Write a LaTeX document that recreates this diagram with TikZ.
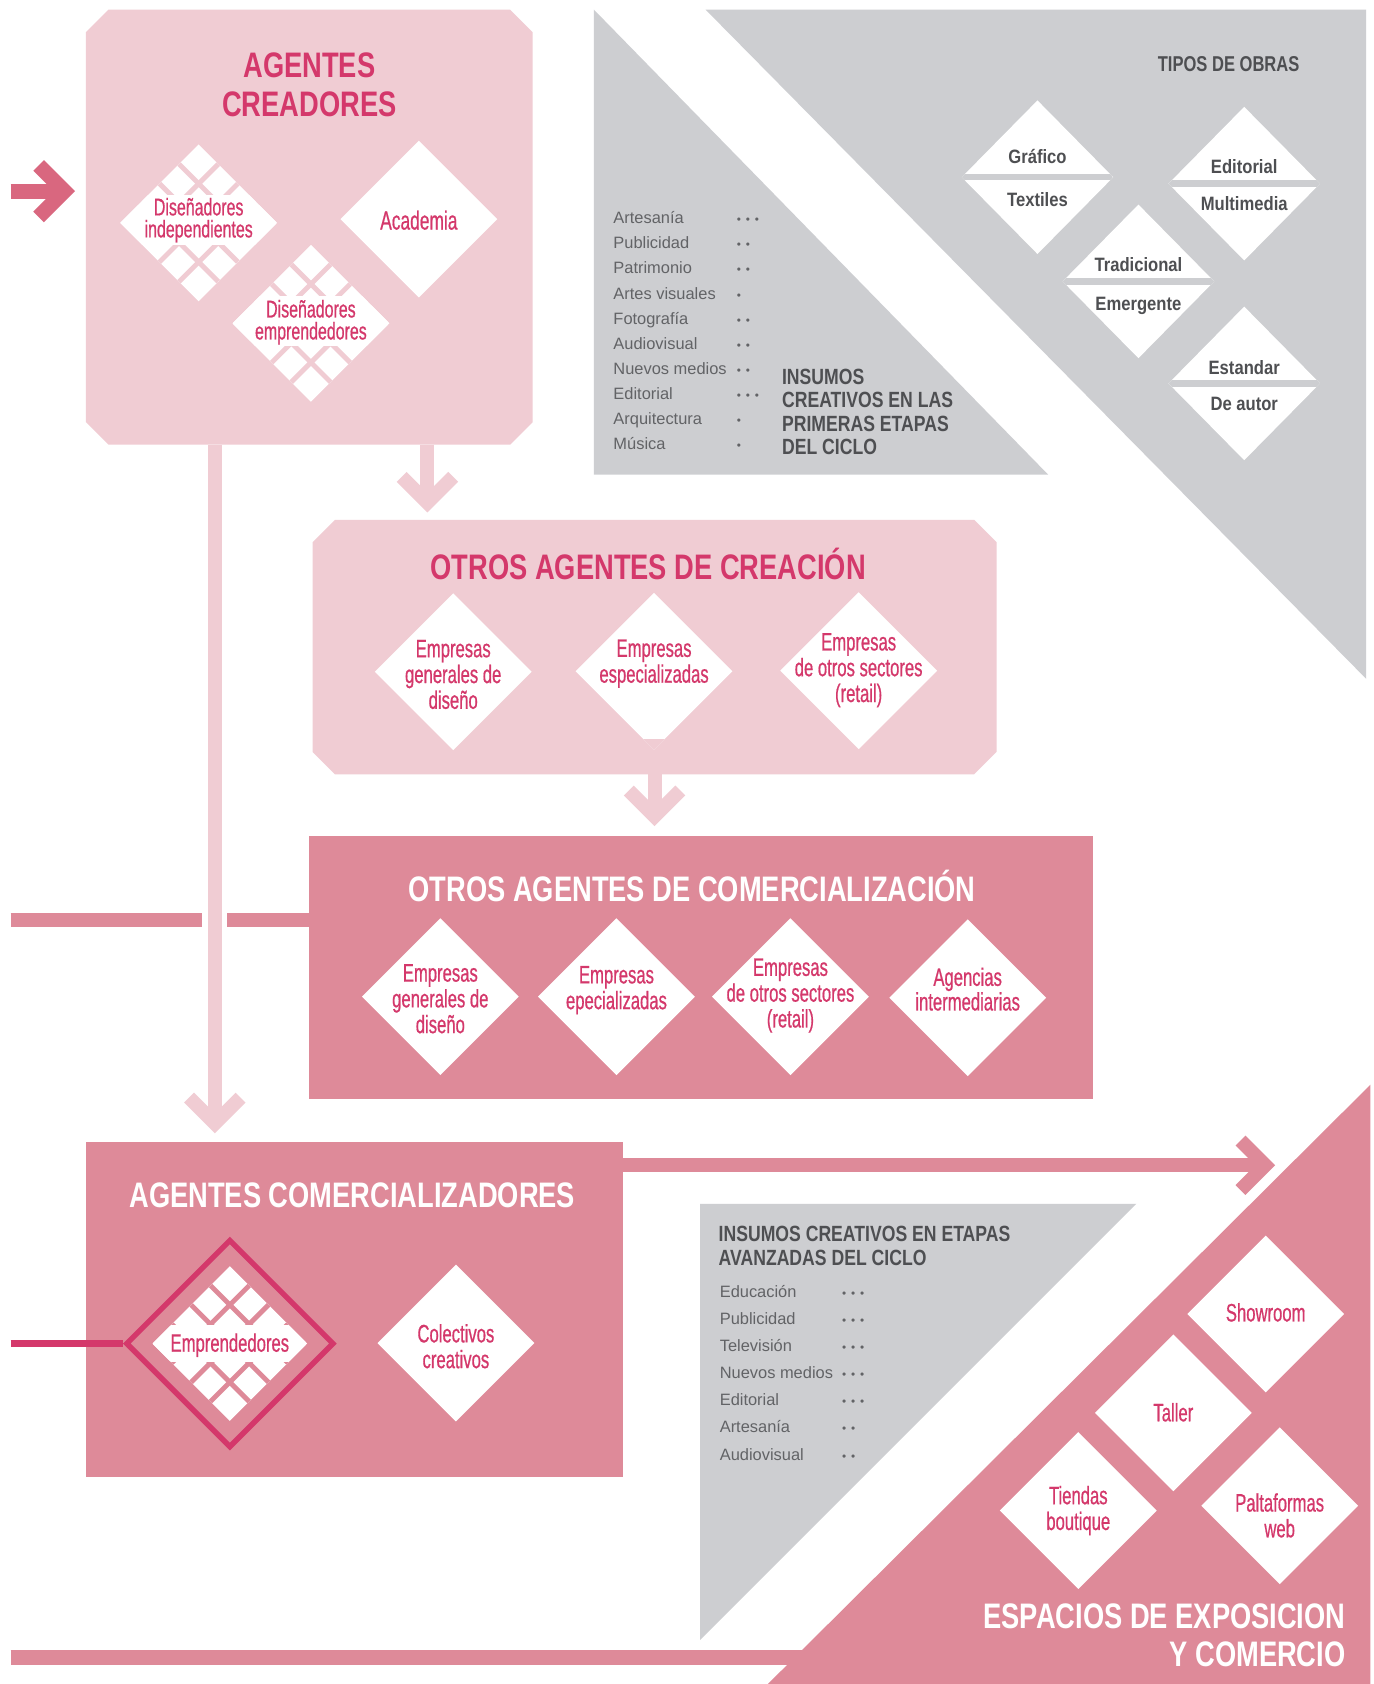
\documentclass[tikz,border=0pt]{standalone}
\usepackage{fontspec}
\setmainfont{Liberation Sans}
\newfontfamily\ttlfont[FakeStretch=0.77]{Liberation Sans}
\newfontfamily\condfont[FakeStretch=0.66,FakeBold=0.6]{Liberation Sans}
\newfontfamily\gttlfont[FakeStretch=0.80]{Liberation Sans}
\newfontfamily\gdfont[FakeStretch=0.86]{Liberation Sans}
\usetikzlibrary{shapes.geometric,calc}

\definecolor{lpink}{HTML}{F0CCD3}
\definecolor{mpink}{HTML}{DE8A99}
\definecolor{dpink}{HTML}{D4386B}
\definecolor{apink}{HTML}{D9677F}
\definecolor{greyb}{HTML}{CDCED1}
\definecolor{gdark}{HTML}{4E4F52}
\definecolor{glist}{HTML}{626366}

% fill a box node as an octagon with chamfered corners
\newcommand\chamferbox[3]{%
  \fill[#2] ([xshift=#3pt]#1.north west) -- ([xshift=-#3pt]#1.north east)
    -- ([yshift=-#3pt]#1.north east) -- ([yshift=#3pt]#1.south east)
    -- ([xshift=-#3pt]#1.south east) -- ([xshift=#3pt]#1.south west)
    -- ([yshift=#3pt]#1.south west) -- ([yshift=-#3pt]#1.north west) -- cycle;}
% chevron heads of the thick arrows
\newcommand\chevright[2]{\draw[chev,#2] ($(#1)+(-23,-23)$) -- (#1) -- ($(#1)+(-23,23)$);}
\newcommand\chevdown[2]{\draw[chev,#2] ($(#1)+(-24,-24)$) -- (#1) -- ($(#1)+(24,-24)$);}
% rating marks
\newcommand\dotone{{\fontsize{11}{11}\selectfont •}}
\newcommand\dottwo{\dotone\hspace{4.5pt}\dotone}
\newcommand\dotthree{\dottwo\hspace{4.5pt}\dotone}

\begin{document}
\begin{tikzpicture}[x=1pt,y=-1pt,
  boxn/.style={rectangle, inner sep=0pt, outer sep=0pt},
  dia/.style={diamond, inner sep=0pt, outer sep=0pt, minimum width=146pt, minimum height=146pt, fill=white},
  patdia/.style n args={3}{dia, path picture={
      \foreach \t in {0.25,0.5,0.75}{
        \draw[#1, line width=4.5pt]
          ($(path picture bounding box.west)!\t!(path picture bounding box.south)$) --
          ($(path picture bounding box.north)!\t!(path picture bounding box.east)$);
        \draw[#1, line width=4.5pt]
          ($(path picture bounding box.west)!\t!(path picture bounding box.north)$) --
          ($(path picture bounding box.south)!\t!(path picture bounding box.east)$);
      }
      \fill[white] ([yshift=#2pt]path picture bounding box.west) rectangle ([yshift=-#3pt]path picture bounding box.east);
    }},
  truncdia/.style={dia, path picture={
      \fill[lpink] (path picture bounding box.south west) rectangle ([yshift=10pt]path picture bounding box.south east);}},
  splitdia/.style={dia, minimum width=141pt, minimum height=143pt, path picture={
      \fill[greyb] ([yshift=3pt]path picture bounding box.west) rectangle ([yshift=-3pt]path picture bounding box.east);}},
  eout/.style={diamond, inner sep=0pt, minimum width=194pt, minimum height=194pt, draw=dpink, line width=5pt},
  ptext/.style={font=\condfont\fontsize{23.5}{24}\selectfont, text=dpink, align=center, inner sep=0pt},
  ptextsm/.style={font=\condfont\fontsize{22.5}{20.5}\selectfont, text=dpink, align=center, inner sep=0pt},
  gtext/.style={font=\gdfont\bfseries\fontsize{18}{20}\selectfont, text=gdark, inner sep=0pt},
  ttl/.style={font=\ttlfont\bfseries\fontsize{33}{36}\selectfont, align=center, inner sep=0pt},
  gttl/.style={font=\gttlfont\bfseries\fontsize{20.5}{21.7}\selectfont, text=gdark, align=left, inner sep=0pt},
  lst/.style={inner sep=0pt, anchor=north west, text=glist},
  shaftline/.style={line width=13pt, line cap=butt},
  chev/.style={line width=13pt, line join=miter, line cap=butt}
]
\useasboundingbox (0,0) rectangle (1279,1568);
\fill[white] (0,0) rectangle (1279,1568);

% ---------- grey panels ----------
\fill[greyb] (553,9) -- (976,442) -- (553,442) -- cycle;
\fill[greyb] (657,9) -- (1272,9) -- (1272,632) -- cycle;
\fill[greyb] (652,1121) -- (1058,1121) -- (652,1527) -- cycle;

% ---------- pink exhibition triangle ----------
\coordinate (tA) at (715,1568);
\coordinate (tB) at (1276,1568);
\coordinate (tC) at (1276,1010);
\fill[mpink] (tA) -- (tB) -- (tC) -- cycle;

% ---------- boxes ----------
\node[boxn, minimum width=416pt, minimum height=405pt] (b1) at (288,211.5) {};
\chamferbox{b1}{lpink}{21}
\node[boxn, minimum width=637pt, minimum height=237pt] (b2) at (609.5,602.5) {};
\chamferbox{b2}{lpink}{21}
\node[boxn, fill=mpink, minimum width=730pt, minimum height=245pt] (b3) at (653,900.5) {};
\node[boxn, fill=mpink, minimum width=500pt, minimum height=312pt] (b4) at (330,1219) {};

% ---------- connectors ----------
% entry arrow
\coordinate (inL) at (10,178);
\coordinate (inV) at ($(inL -| b1.west)+(-20,0)$);
\draw[apink, line width=14pt] (inL) -- (inV);
\draw[apink, line width=14pt, line join=miter] ($(inV)+(-24,-24)$) -- (inV) -- ($(inV)+(-24,24)$);

% line into the commercialisation box
\coordinate (hL) at (10,857);
\draw[mpink, shaftline] (hL) -- (hL -| b3.west);

% long vertical arrow from creators to sellers
\coordinate (vTop) at ([xshift=-88pt]b1.south);
\coordinate (vEnd) at ($(vTop |- b4.north)+(0,-17)$);
\draw[white, line width=23pt] (vTop) -- (vEnd);
\draw[lpink, shaftline] (vTop) -- (vEnd);
\chevdown{vEnd}{lpink}

% box 1 -> box 2
\coordinate (d1s) at ([xshift=110pt]b1.south);
\coordinate (d1v) at ($(d1s |- b2.north)+(0,-16)$);
\draw[lpink, shaftline] (d1s) -- (d1v);
\chevdown{d1v}{lpink}

% box 2 -> box 3
\coordinate (d2s) at (b2.south);
\coordinate (d2v) at ($(b2.south |- b3.north)+(0,-18)$);
\draw[lpink, shaftline] (d2s) -- (d2v);
\chevdown{d2v}{lpink}

% box 4 -> exhibition spaces
\coordinate (rS) at ([yshift=-22pt]b4.north east);
\coordinate (rV) at (1178,1085);
\draw[mpink, shaftline] (rS) -- (rV);
\chevright{rV}{mpink}

% bottom line into the triangle
\coordinate (bL) at (10,1543);
\coordinate (bR) at (750,1543);
\draw[mpink, line width=14pt] (bL) -- (bR);

% ---------- box 1: AGENTES CREADORES ----------
\node[ttl, text=dpink] (b1t) at (288,79) {AGENTES\\CREADORES};
\node[patdia={lpink}{25.5}{20.5}] (dind) at (185,207.5) {};
\node[ptextsm] (dindt) at (185,205) {Diseñadores\\independientes};
\node[dia] (dacad) at (390,204) {};
\node[ptext, font=\condfont\fontsize{24.5}{25}\selectfont] (dacadt) at (390,205) {Academia};
\node[patdia={lpink}{25}{21}] (demp) at (289.5,301) {};
\node[ptextsm] (dempt) at (289.5,300) {Diseñadores\\emprendedores};

% ---------- box 2: OTROS AGENTES DE CREACIÓN ----------
\node[ttl, text=dpink] (b2t) at (603.5,525) {OTROS AGENTES DE CREACIÓN};
\node[dia] (g1) at (422,625.5) {};
\node[ptext] (g1t) at (422,628) {Empresas\\generales de\\diseño};
\node[truncdia] (g2) at (609,625) {};
\node[ptext] (g2t) at (609,618) {Empresas\\especializadas};
\node[dia] (g3) at (799.5,624.5) {};
\node[ptext] (g3t) at (799.5,624) {Empresas\\de otros sectores\\(retail)};

% ---------- box 3: OTROS AGENTES DE COMERCIALIZACIÓN ----------
\node[ttl, text=white] (b3t) at (644.5,825) {OTROS AGENTES DE COMERCIALIZACIÓN};
\node[dia] (c1) at (410,928) {};
\node[ptext] (c1t) at (410,930) {Empresas\\generales de\\diseño};
\node[dia] (c2) at (574,928) {};
\node[ptext] (c2t) at (574,922) {Empresas\\epecializadas};
\node[dia] (c3) at (736,928) {};
\node[ptext] (c3t) at (736,927) {Empresas\\de otros sectores\\(retail)};
\node[dia] (c4) at (901,929) {};
\node[ptextsm, font=\condfont\fontsize{23.5}{20}\selectfont] (c4t) at (901,921) {Agencias\\intermediarias};

% ---------- box 4: AGENTES COMERCIALIZADORES ----------
\node[ttl, text=white] (b4t) at (328,1113) {AGENTES COMERCIALIZADORES};
\node[eout] (eo) at (214,1251) {};
\node[patdia={mpink}{17}{17}, minimum width=144pt, minimum height=144pt] (ep) at (214,1251) {};
\node[ptext] (ept) at (214,1252.5) {Emprendedores};
\node[dia] (col) at (424.5,1250.5) {};
\node[ptext] (colt) at (424.5,1253.5) {Colectivos\\creativos};
\coordinate (eL) at (10,1251);
\draw[dpink, line width=6pt] (eL) -- (eo.west);

% ---------- exhibition spaces ----------
\node[dia] (sh) at (1178.5,1223.5) {};
\node[ptext] (sht) at (1178.5,1222) {Showroom};
\node[dia] (ta) at (1092.5,1315.5) {};
\node[ptext] (tat) at (1092.5,1315) {Taller};
\node[dia] (ti) at (1004,1406.5) {};
\node[ptext] (tit) at (1004,1406.5) {Tiendas\\boutique};
\node[dia] (pa) at (1191.5,1402) {};
\node[ptext] (pat) at (1191.5,1411) {Paltaformas\\web};
\node[ttl, text=white, align=right, anchor=east] (ext) at (1253,1522.5) {ESPACIOS DE EXPOSICION\\Y COMERCIO};

% ---------- work types ----------
\node[gttl, font=\ttlfont\bfseries\fontsize{20}{21}\selectfont] (tpo) at (1144,60) {TIPOS DE OBRAS};
\node[splitdia] (s1) at (966,165) {};
\node[gtext] (s1a) at (966,146) {Gráfico};
\node[gtext] (s1b) at (966,186) {Textiles};
\node[splitdia] (s2) at (1158.5,171) {};
\node[gtext] (s2a) at (1158.5,155) {Editorial};
\node[gtext] (s2b) at (1158.5,190) {Multimedia};
\node[splitdia] (s3) at (1060,262) {};
\node[gtext] (s3a) at (1060,246) {Tradicional};
\node[gtext] (s3b) at (1060,284.5) {Emergente};
\node[splitdia] (s4) at (1158.5,357) {};
\node[gtext] (s4a) at (1158.5,342) {Estandar};
\node[gtext] (s4b) at (1158.5,376) {De autor};

% ---------- creative inputs, early stages ----------
\node[lst, font=\fontsize{15.3}{23.3}\selectfont] (list1) at (571,192) {%
\begin{tabular}{@{}p{115pt}@{}l@{}}
Artesanía & \dotthree\\
Publicidad & \dottwo\\
Patrimonio & \dottwo\\
Artes visuales & \dotone\\
Fotografía & \dottwo\\
Audiovisual & \dottwo\\
Nuevos medios & \dottwo\\
Editorial & \dotthree\\
Arquitectura & \dotone\\
Música & \dotone
\end{tabular}};
\node[gttl, anchor=west] (ins1) at (728,383.5) {INSUMOS\\CREATIVOS EN LAS\\PRIMERAS ETAPAS\\DEL CICLO};

% ---------- creative inputs, advanced stages ----------
\node[gttl, anchor=west] (ins2) at (669,1160) {INSUMOS CREATIVOS EN ETAPAS\\AVANZADAS DEL CICLO};
\node[lst, font=\fontsize{15.3}{25.3}\selectfont] (list2) at (670,1189.8) {%
\begin{tabular}{@{}p{114pt}@{}l@{}}
Educación & \dotthree\\
Publicidad & \dotthree\\
Televisión & \dotthree\\
Nuevos medios & \dotthree\\
Editorial & \dotthree\\
Artesanía & \dottwo\\
Audiovisual & \dottwo
\end{tabular}};
\end{tikzpicture}
\end{document}
